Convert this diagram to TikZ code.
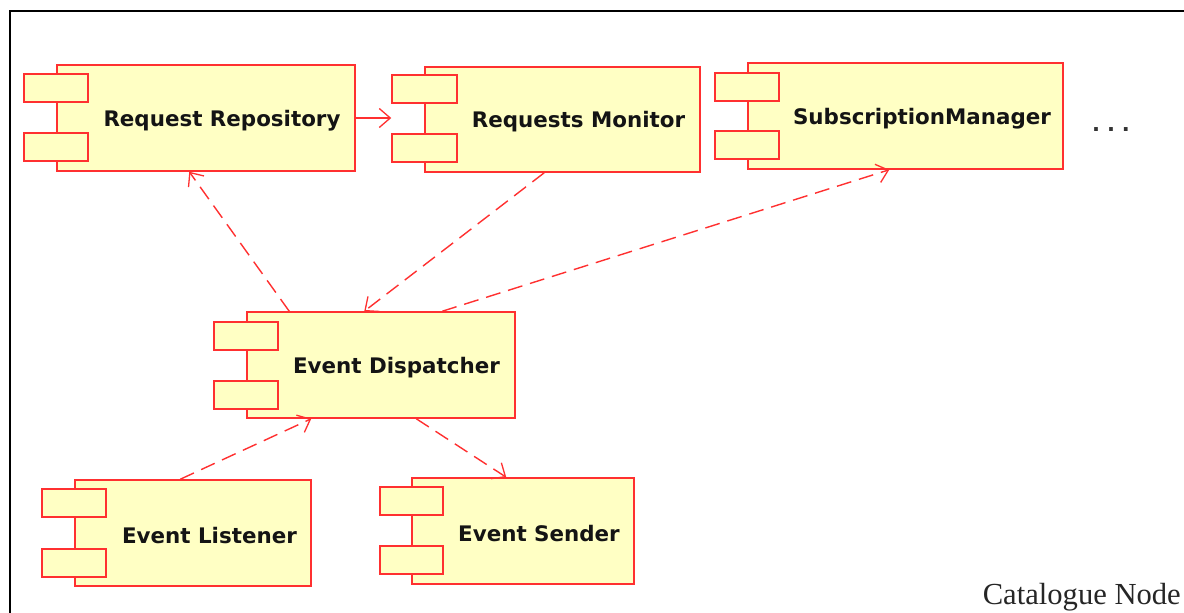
\documentclass[tikz,border=0pt]{standalone}
\usepackage{fontspec}
\setmainfont{DejaVu Sans}
\newfontfamily\capfont{Liberation Serif}
\usetikzlibrary{arrows.meta,calc}
\definecolor{umlred}{RGB}{255,48,48}
\definecolor{umlfill}{RGB}{255,255,196}
\definecolor{umltext}{RGB}{20,20,20}
\tikzset{
  compbox/.style={draw=umlred, fill=umlfill, line width=1.5pt, inner sep=0pt, anchor=center},
  port/.style={draw=umlred, fill=umlfill, line width=1.5pt, inner sep=0pt, minimum height=28pt, anchor=center},
  complabel/.style={text=umltext, font=\fontsize{21.4}{24}\selectfont\bfseries, inner sep=0pt, anchor=center, yshift=-2.5pt},
  dep/.style={draw=umlred, line width=1.4pt, dash pattern=on 15pt off 8pt, -{Straight Barb[length=11pt,width=19pt,line width=1.3pt]}},
  assoc/.style={draw=umlred, line width=1.4pt, -{Straight Barb[length=11pt,width=19pt,line width=1.3pt]}},
}
\begin{document}
\begin{tikzpicture}[x=1pt,y=-1pt]
\useasboundingbox (0,0) rectangle (1184,613);
\fill[white] (0,0) rectangle (1184,613);
% frame
\draw[black, line width=2pt] (10,620) -- (10,11) -- (1190,11);

% Request Repository
\node[compbox, minimum width=298pt, minimum height=106pt] (rr) at (206,118) {};
\node[port, minimum width=64pt] (rrp1) at (56,88) {};
\node[port, minimum width=64pt] (rrp2) at (56,147) {};
\node[complabel] (rrl) at (222,118) {Request Repository};

% Requests Monitor
\node[compbox, minimum width=275pt, minimum height=105pt] (rm) at (562.5,119.5) {};
\node[port, minimum width=65pt] (rmp1) at (424.5,89) {};
\node[port, minimum width=65pt] (rmp2) at (424.5,148) {};
\node[complabel] (rml) at (578.5,119.5) {Requests Monitor};

% SubscriptionManager
\node[compbox, minimum width=315pt, minimum height=106pt] (sm) at (905.5,116) {};
\node[port, minimum width=64pt] (smp1) at (747,87) {};
\node[port, minimum width=64pt] (smp2) at (747,145) {};
\node[complabel] (sml) at (922,116) {SubscriptionManager};

% dots
\node[text=black!80, font=\fontsize{21}{24}\selectfont\bfseries, inner sep=0pt, anchor=base] (dots) at (1111,131) {.\,\,.\,\,.};

% Event Dispatcher
\node[compbox, minimum width=268pt, minimum height=106pt] (ed) at (381,365) {};
\node[port, minimum width=64pt] (edp1) at (246,336) {};
\node[port, minimum width=64pt] (edp2) at (246,395) {};
\node[complabel] (edl) at (396.5,365) {Event Dispatcher};

% Event Listener
\node[compbox, minimum width=236pt, minimum height=106pt] (el) at (193,533) {};
\node[port, minimum width=64pt] (elp1) at (74,503) {};
\node[port, minimum width=64pt] (elp2) at (74,563) {};
\node[complabel] (ell) at (209.5,533) {Event Listener};

% Event Sender
\node[compbox, minimum width=222pt, minimum height=106pt] (es) at (523,531) {};
\node[port, minimum width=63pt] (esp1) at (411.5,501) {};
\node[port, minimum width=63pt] (esp2) at (411.5,560) {};
\node[complabel] (esl) at (539,531) {Event Sender};

% caption
\node[text=black!85, font=\capfont\fontsize{30.6}{34}\selectfont, inner sep=0pt, anchor=base east] (cap) at (1181,604) {Catalogue Node};

% connectors
\draw[assoc] (rr.east) -- (rmp1.west |- rr.east);
\draw[dep] ([xshift=43pt]ed.north west) -- ([xshift=133pt]rr.south west);
\draw[dep] ([xshift=120pt]rm.south west) -- ([xshift=118pt]ed.north west);
\draw[dep] ([xshift=196pt]ed.north west) -- ([xshift=142pt]sm.south west);
\draw[dep] ([xshift=106pt]el.north west) -- ([xshift=65pt]ed.south west);
\draw[dep] ([xshift=170pt]ed.south west) -- ([xshift=95pt]es.north west);
\end{tikzpicture}
\end{document}
